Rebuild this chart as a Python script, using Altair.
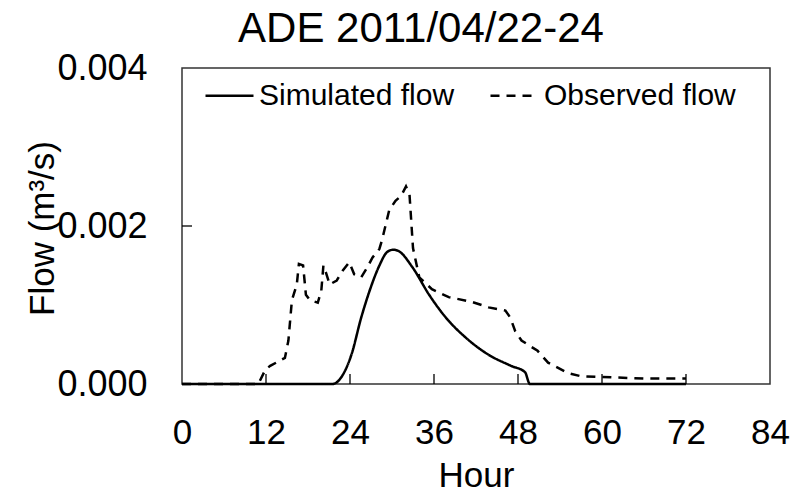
import altair as alt
import pandas as pd

sim_hour = [0, 21.5, 23.0, 24.2, 25.6, 26.8, 28.2, 29.3, 30.2, 31.0, 32.9, 35.3, 37.7, 40.5, 43.8, 47.0, 49.0, 49.7, 72.0]
sim_flow = [0, 0, 0.00012, 0.00037, 0.00084, 0.00118, 0.0015, 0.00167, 0.0017, 0.00168, 0.00148, 0.00113,
            0.00084, 0.00059, 0.00037, 0.00023, 0.00015, 0, 0]

obs_hour = [0, 10.9, 11.9, 12.6, 14.7, 15.2, 15.7, 16.4, 16.7, 17.3, 17.7, 18.3, 19.4, 19.9, 20.2, 20.6,
            21.1, 22.1, 23.0, 23.9, 24.6, 25.6, 26.5, 27.2, 28.2, 28.6, 29.6, 30.5, 31.3, 32.0, 32.5, 33.0,
            33.9, 35.7, 38.1, 41.4, 43.8, 46.2, 46.9, 47.6, 48.5, 50.8, 52.3, 55.1, 56.9, 59.3, 66.0, 72.0]
obs_flow = [0, 0, 0.00018, 0.00023, 0.00033, 0.00055, 0.00106, 0.00126, 0.00152, 0.0015, 0.00113, 0.00106,
            0.00103, 0.00118, 0.0015, 0.0014, 0.00126, 0.00131, 0.00144, 0.00154, 0.00139, 0.00135, 0.00148,
            0.0016, 0.00171, 0.00183, 0.0022, 0.00232, 0.00238, 0.0025, 0.0024, 0.00172, 0.00135, 0.0012,
            0.0011, 0.00104, 0.00097, 0.00093, 0.00084, 0.00067, 0.00055, 0.00042, 0.00027, 0.00014, 0.0001,
            0.00009, 0.00007, 0.00007]

series_names = ["Simulated flow", "Observed flow"]
x_ticks = [0, 12, 24, 36, 48, 60, 72, 84]
inner_x_ticks = [12, 24, 36, 48, 60, 72]
y_ticks = [0.0, 0.002, 0.004]
inner_y_ticks = [0.002]

W, H = 588, 316
FONT = "Liberation Sans"

sim_df = pd.DataFrame({"Hour": sim_hour, "Flow": sim_flow, "Series": series_names[0]})
obs_df = pd.DataFrame({"Hour": obs_hour, "Flow": obs_flow, "Series": series_names[1]})

xscale = alt.Scale(domain=[0, 84], nice=False, zero=False)
yscale = alt.Scale(domain=[0, 0.004], nice=False)
dash = alt.StrokeDash(
    "Series:N",
    scale=alt.Scale(domain=series_names, range=[[1, 0], [9, 7]]),
    legend=alt.Legend(
        title=None, orient="none", direction="horizontal", legendX=22, legendY=2,
        symbolType="stroke", symbolSize=2304, symbolStrokeWidth=2.5, symbolStrokeColor="black",
        labelFont=FONT, labelFontSize=30, labelColor="black", labelOffset=4, columnPadding=30,
        labelLimit=500, padding=0,
    ),
)

xaxis = alt.Axis(values=x_ticks, title="Hour", ticks=False, tickSize=0, domain=False, grid=False,
                 labelFont=FONT, labelFontSize=35, labelColor="black", labelPadding=31, labelFlush=False,
                 labelOverlap=False,
                 titleFont=FONT, titleFontSize=35, titleFontWeight="normal", titleColor="black",
                 titleBaseline="alphabetic", titleY=102)
yaxis = alt.Axis(values=y_ticks, format=".3f", title="Flow (m³/s)", ticks=False, tickSize=0, domain=False,
                 grid=False, labelFont=FONT, labelFontSize=36, labelColor="black", labelPadding=35,
                 labelFlush=False, labelOverlap=False,
                 titleFont=FONT, titleFontSize=35, titleFontWeight="normal", titleColor="black",
                 titleBaseline="alphabetic", titleX=-129, titleY=160, titleAngle=270)

sim = alt.Chart(sim_df).mark_line(color="black", strokeWidth=2.5, interpolate="monotone").encode(
    x=alt.X("Hour:Q", scale=xscale, axis=xaxis),
    y=alt.Y("Flow:Q", scale=yscale, axis=yaxis),
    strokeDash=dash,
)
obs = alt.Chart(obs_df).mark_line(color="black", strokeWidth=2.5).encode(
    x=alt.X("Hour:Q", scale=xscale),
    y=alt.Y("Flow:Q", scale=yscale),
    strokeDash=dash,
)

xt = alt.Chart(pd.DataFrame({"t": inner_x_ticks})).mark_rule(color="black", strokeWidth=1.3).encode(
    x=alt.X("t:Q", scale=xscale), y=alt.value(H), y2=alt.value(H - 10)
)
yt = alt.Chart(pd.DataFrame({"v": inner_y_ticks})).mark_rule(color="black", strokeWidth=1.3).encode(
    y=alt.Y("v:Q", scale=yscale), x=alt.value(0), x2=alt.value(10)
)

chart = alt.layer(obs, sim, xt, yt).properties(
    width=W, height=H,
    title=alt.TitleParams("ADE 2011/04/22-24", font=FONT, fontSize=42, fontWeight="normal", color="black",
                          anchor="middle", frame="group", dx=-55, offset=-1),
    autosize=alt.AutoSizeParams(type="none"),
    padding={"left": 174, "top": 60, "right": 30, "bottom": 108},
    view=alt.ViewBackground(stroke="#333", strokeWidth=1.5),
).configure_view(stroke="#333", strokeWidth=1.5).configure(background="white")

chart.save("out.html", embed_options={"renderer": "svg", "actions": False})
